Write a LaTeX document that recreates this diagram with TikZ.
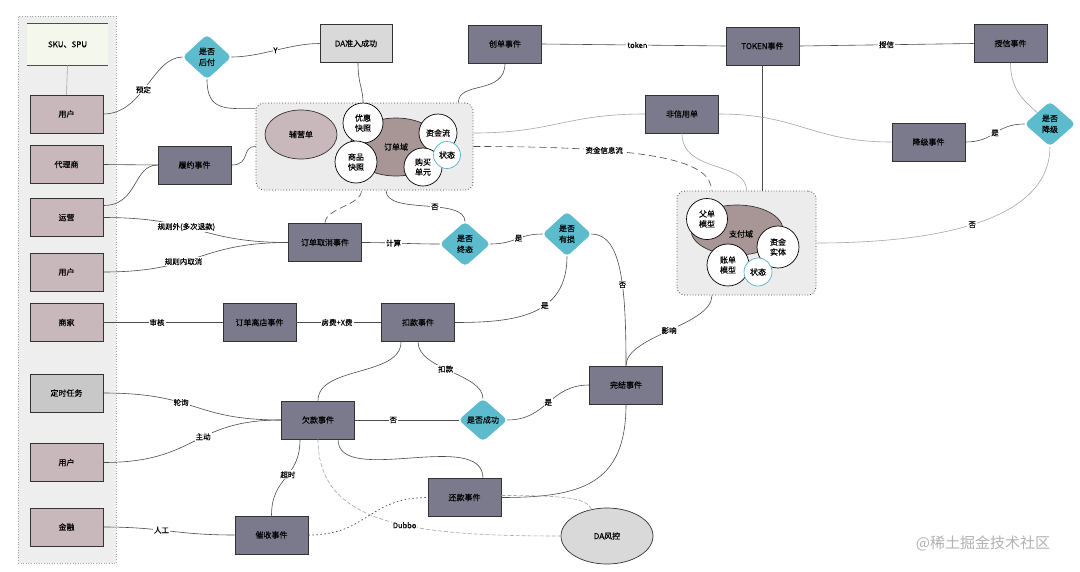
\documentclass[tikz,border=0pt]{standalone}
\usepackage{fontspec}
\setmainfont{Noto Sans CJK SC}[FakeBold=0.3]
\newfontfamily\wmfont{Noto Sans CJK SC}
\usetikzlibrary{shapes.geometric}
\definecolor{usrc}{HTML}{C9B8BB}
\definecolor{evc}{HTML}{7B7A8C}
\definecolor{diac}{HTML}{5DBBCE}
\definecolor{grayc}{HTML}{D9D9D9}
\definecolor{timc}{HTML}{C8C8C8}
\definecolor{domc}{HTML}{A89696}
\definecolor{contc}{HTML}{ECECEC}
\definecolor{panc}{HTML}{EEEEEE}
\definecolor{skuc}{HTML}{F4F7EC}
\definecolor{stc}{HTML}{5AAED0}
\tikzset{
  base/.style={draw=black!80, line width=0.7pt, inner sep=1pt, align=center, font=\fontsize{8}{10}\selectfont},
  usr/.style={base, fill=usrc, minimum width=73pt, minimum height=38pt},
  ev/.style={base, fill=evc, minimum width=73pt, minimum height=38pt},
  gbox/.style={base, fill=grayc, minimum width=72pt, minimum height=38pt},
  dia/.style={base, diamond, fill=diac, draw=diac, rounded corners=4pt, inner sep=0pt, minimum width=48pt, minimum height=44pt, font=\fontsize{8}{11}\selectfont},
  cont/.style={draw=black!75, dotted, line width=0.8pt, fill=contc, rounded corners=8pt, minimum width=#1},
  circ/.style={base, circle, fill=white, draw=black, inner sep=0pt, minimum size=#1},
  stcirc/.style={base, circle, fill=white, draw=stc, inner sep=0pt, minimum size=#1},
  dom/.style={base, ellipse, fill=domc, inner sep=0pt},
  lbl/.style={fill=white, inner sep=1pt, font=\fontsize{7.5}{9}\selectfont, text=black},
  ln/.style={draw=black!70, line width=0.6pt},
  lt/.style={draw=black!35, line width=0.6pt},
  dk/.style={draw=black!70, line width=0.6pt, dash pattern=on 7pt off 4pt},
  dl/.style={draw=black!35, line width=0.6pt, dash pattern=on 4pt off 2pt},
  dt/.style={draw=black!70, line width=0.7pt, dash pattern=on 1.5pt off 2.5pt}
}
\begin{document}
\begin{tikzpicture}[x=1pt,y=-1pt]
\useasboundingbox (0,0) rectangle (1080,571);
\fill[white] (0,0) rectangle (1080,571);

% left panel
\node[draw=black!35, dotted, line width=0.6pt, fill=panc, minimum width=98pt, minimum height=547pt, inner sep=0pt] (panel) at (67,289.5) {};
\node[base, draw=none, fill=skuc, minimum width=81pt, minimum height=41pt] (sku) at (67.5,44.5) {SKU、SPU};
\draw[black!70, line width=0.7pt] (sku.north west) -- (sku.north east);
\draw[black!70, line width=0.7pt] (sku.south west) -- (sku.south east);

\node[usr] (u1) at (66.5,114) {用户};
\node[usr] (agent) at (66.5,164.5) {代理商};
\node[usr] (ops) at (66.5,217.5) {运营};
\node[usr] (u2) at (66.5,272) {用户};
\node[usr] (merchant) at (66.5,322.5) {商家};
\node[base, fill=timc, minimum width=73pt, minimum height=38pt] (timer) at (66.5,393) {定时任务};
\node[usr] (u3) at (66.5,462.5) {用户};
\node[usr] (fin) at (66.5,527) {金融};

% containers
\node[cont=217pt, minimum height=87pt] (orderc) at (364.5,146.5) {};
\node[cont=139pt, minimum height=104pt] (payc) at (746.5,243) {};

% order domain
\node[base, ellipse, fill=usrc, inner sep=0pt, minimum width=72pt, minimum height=49pt] (fy) at (301,134.5) {辅营单};
\node[dom, minimum width=92pt, minimum height=58pt] (od) at (396,147) {订单域};
\node[circ=40pt] (yh) at (363,123) {优惠\\快照};
\node[circ=42pt] (sp) at (356,162) {商品\\快照};
\node[circ=38pt] (zjl) at (438,133) {资金流};
\node[circ=38pt] (gm) at (423,167) {购买\\单元};
\node[stcirc=27pt] (st1) at (447,155) {状态};

% pay domain
\node[dom, minimum width=92pt, minimum height=50pt] (pd) at (737,230) {};
\node[base, inner sep=0pt, draw=none] (pdt) at (741,234) {支付域};
\node[circ=41pt] (fd) at (707,219) {父单\\模型};
\node[circ=42pt] (zs) at (778,247) {资金\\实体};
\node[circ=42pt] (zd) at (728,265) {账单\\模型};
\node[stcirc=28pt] (st2) at (758,272) {状态};

% diamonds
\node[dia] (pay) at (207,57) {是否\\后付};
\node[dia, minimum width=50pt] (final) at (465,244) {是否\\终态};
\node[dia] (loss) at (567,234) {是否\\有损};
\node[dia, minimum height=42pt] (succ) at (483,420) {是否成功};
\node[dia, minimum width=50pt] (down) at (1050,124) {是否\\降级};

% boxes
\node[ev] (fulfill) at (194.5,165) {履约事件};
\node[gbox] (daok) at (356,43.5) {DA准入成功};
\node[ev] (create) at (505,44) {创单事件};
\node[ev] (token) at (762.5,46) {TOKEN事件};
\node[ev] (credit) at (1010.5,43.5) {授信事件};
\node[ev] (noncredit) at (682,114) {非信用单};
\node[ev] (downgrade) at (928.5,142) {降级事件};
\node[ev] (cancel) at (325,242.5) {订单取消事件};
\node[ev] (leave) at (259.5,322.5) {订单离店事件};
\node[ev] (deduct) at (418,322.5) {扣款事件};
\node[ev] (debt) at (318,420) {欠款事件};
\node[ev] (finish) at (626,385) {完结事件};
\node[ev] (repay) at (464.5,497.5) {还款事件};
\node[ev] (collect) at (271.5,535) {催收事件};
\node[base, ellipse, fill=grayc, inner sep=0pt, minimum width=92pt, minimum height=56pt] (risk) at (607,536) {DA风控};

% connectors
\draw[lt] (sku.south) -- (u1.north);
\draw[ln] (u1.east) .. controls +(40,0) and +(-30,0) .. (pay.west) node[lbl, pos=0.45] {预定};
\draw[ln] (pay.east) .. controls +(30,0) and +(-30,0) .. (daok.west) node[lbl, pos=0.5] {Y};
\draw[ln] (pay.south) .. controls +(0,32) and +(-30,0) .. ([yshift=-6pt]orderc.north west);
\draw[ln] ([xshift=2pt]daok.south) .. controls +(0,22) and +(0,-15) .. (yh.north);
\draw[ln] (create.south) .. controls +(0,32) and +(0,-22) .. ([xshift=-15pt]orderc.north east);
\draw[ln] (agent.east) -- (fulfill.west);
\draw[ln] ([yshift=12pt]ops.east) .. controls +(35,0) and +(-25,0) .. (fulfill.west);
\draw[ln] (fulfill.east) .. controls +(20,0) and +(-15,0) .. (orderc.west);
\draw[ln] (ops.east) .. controls +(95,0) and +(-90,0) .. (cancel.west) node[lbl, pos=0.42] {规则外(多次退款)};
\draw[ln] (u2.east) .. controls +(95,0) and +(-90,0) .. (cancel.west) node[lbl, pos=0.4] {规则内取消};
\draw[dk] (cancel.north) .. controls +(0,-15) and +(0,15) .. ([xshift=-3pt]orderc.south);
\draw[ln] ([xshift=21.5pt]orderc.south) .. controls +(0,25) and +(0,-25) .. (final.north) node[lbl, pos=0.58] {否};
\draw[ln] (cancel.east) .. controls +(30,0) and +(-30,0) .. (final.west) node[lbl, pos=0.4] {计算};
\draw[ln] (final.east) .. controls +(25,0) and +(-25,0) .. (loss.west) node[lbl, pos=0.55] {是};
\draw[ln] (loss.south) .. controls +(0,60) and +(60,0) .. (deduct.east) node[lbl, pos=0.4] {是};
\draw[ln] (loss.east) .. controls +(30,0) and +(0,-80) .. (finish.north) node[lbl, pos=0.6] {否};
\draw[ln] (merchant.east) -- (leave.west) node[lbl, pos=0.45] {审核};
\draw[ln] (leave.east) -- (deduct.west) node[lbl, pos=0.48] {房费+X费};
\draw[ln] ([xshift=-17pt]deduct.south) .. controls +(0,35) and +(0,-35) .. (debt.north);
\draw[ln] (deduct.south) .. controls +(0,28) and +(0,-25) .. (succ.north) node[lbl, pos=0.45] {扣款};
\draw[ln] (debt.east) -- (succ.west) node[lbl, pos=0.37] {否};
\draw[ln] (succ.east) .. controls +(40,0) and +(-40,0) .. (finish.west) node[lbl, pos=0.5] {是};
\draw[ln] (finish.north) .. controls +(0,-30) and +(0,30) .. ([xshift=-34.5pt]payc.south) node[lbl, pos=0.5] {影响};
\draw[ln] (finish.south) .. controls +(0,80) and +(80,0) .. (repay.east);
\draw[ln] ([xshift=20pt]debt.south) .. controls +(0,48) and +(0,-50) .. ([xshift=18.5pt]repay.north);
\draw[ln] (timer.east) .. controls +(95,0) and +(-90,0) .. (debt.west) node[lbl, pos=0.4] {轮询};
\draw[ln] (u3.east) .. controls +(95,0) and +(-90,0) .. (debt.west) node[lbl, pos=0.57] {主动};
\draw[ln] ([xshift=-18pt]debt.south) .. controls +(0,40) and +(0,-40) .. (collect.north) node[lbl, pos=0.45] {超时};
\draw[ln] (fin.east) .. controls +(60,0) and +(-60,0) .. (collect.west) node[lbl, pos=0.43] {人工};
\draw[dt] (collect.east) .. controls +(60,0) and +(-60,0) .. (repay.west);
\draw[dl] (debt.south) .. controls +(0,85) and +(-150,0) .. (risk.west) node[lbl, pos=0.58] {Dubbo};
\draw[dl] ([yshift=2pt]repay.east) .. controls +(60,0) and +(-5,-12) .. (risk.120);
\draw[ln] (create.east) -- (token.west) node[lbl, pos=0.52] {token};
\draw[ln] (token.east) -- (credit.west) node[lbl, pos=0.5] {授信};
\draw[ln] (token.south) -- (token.south |- payc.north);
\draw[lt] ([yshift=13.5pt]orderc.east) .. controls +(80,0) and +(-80,0) .. (noncredit.west);
\draw[lt] (noncredit.east) .. controls +(80,0) and +(-80,0) .. (downgrade.west);
\draw[lt] (noncredit.south) .. controls +(0,40) and +(0,-30) .. (payc.north);
\draw[dk] (orderc.east) .. controls +(180,0) and +(0,-30) .. ([xshift=-35pt]payc.north) node[lbl, pos=0.3] {资金信息流};
\draw[lt] (credit.south) .. controls +(0,30) and +(-10,-10) .. (down.north west);
\draw[ln] (down.west) .. controls +(-30,0) and +(30,0) .. (downgrade.east) node[lbl, pos=0.5] {是};
\draw[lt] (down.south) .. controls +(0,80) and +(104,0) .. (payc.east) node[lbl, pos=0.5] {否};

% watermark
\node[text=black!30, font=\wmfont\fontsize{15}{18}\selectfont, inner sep=0pt] (wm) at (983,543) {@稀土掘金技术社区};
\end{tikzpicture}
\end{document}
